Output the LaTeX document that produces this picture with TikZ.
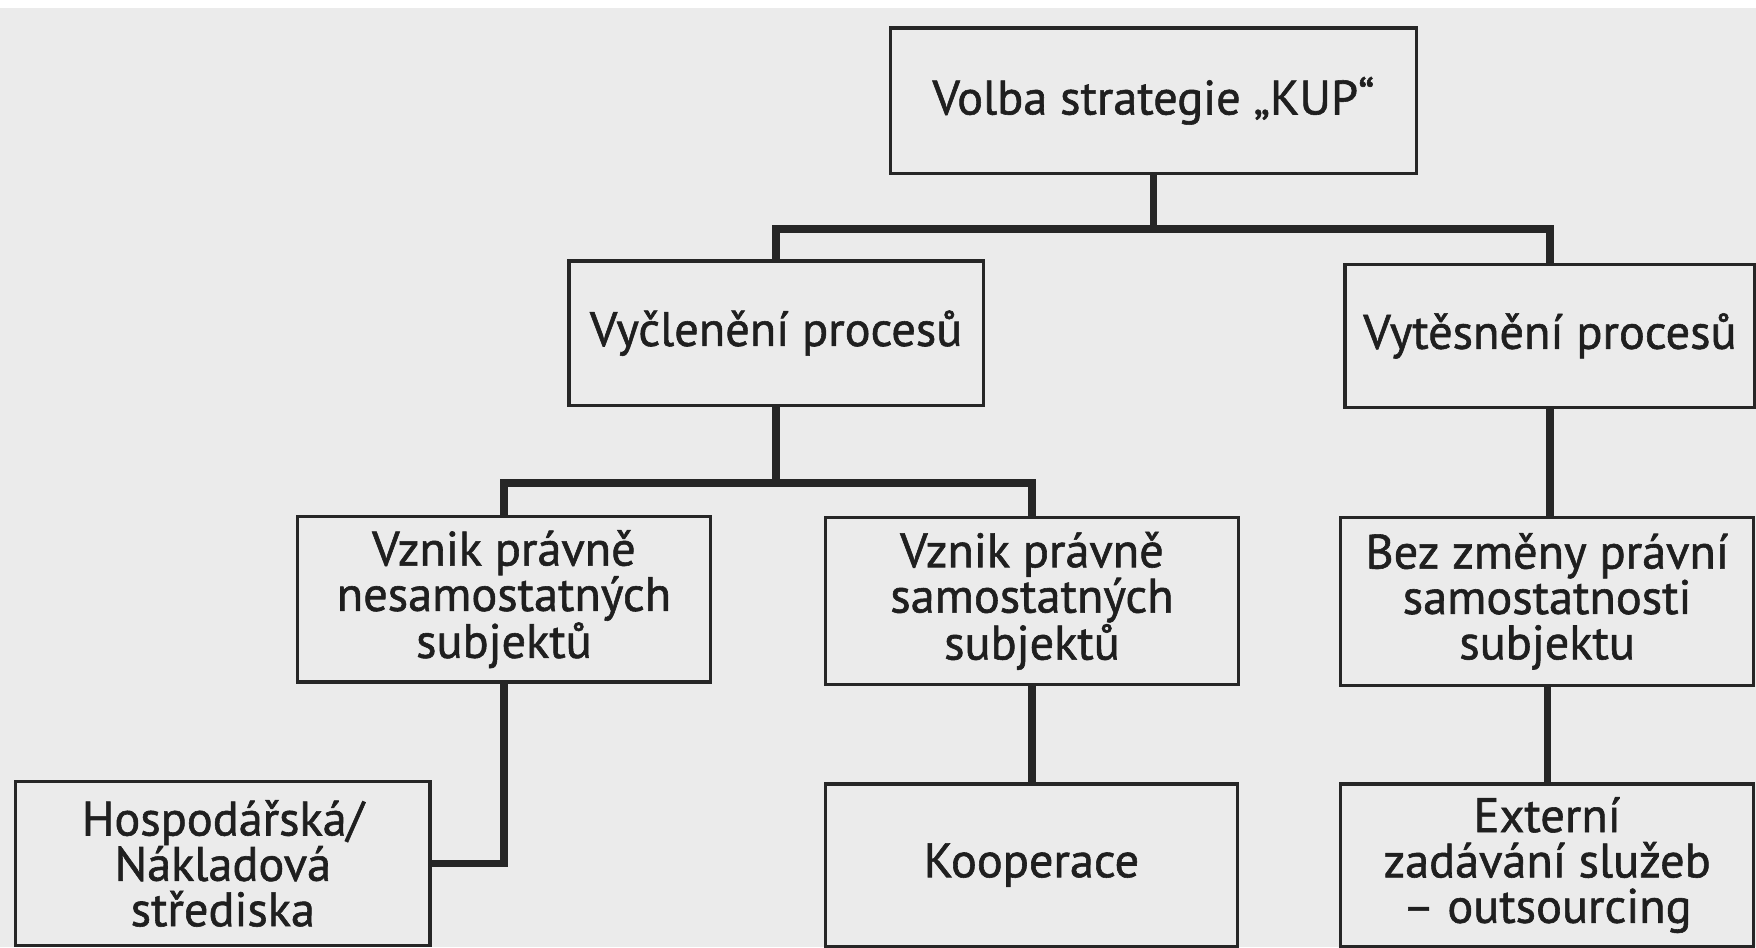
\documentclass[tikz,border=0pt]{standalone}
\usepackage{fontspec}
\setmainfont{PT Sans}[FakeBold=1.2]
\usetikzlibrary{calc}
\begin{document}
\begin{tikzpicture}[x=0.025cm,y=-0.025cm,
  paper/.style={fill=black!8},
  ink/.style={draw=black!85,line width=2.1pt},
  box/.style={ink,rectangle,inner sep=0pt,align=center,
    font=\fontsize{30.7}{28.8}\selectfont,text=black!88},
  conn/.style={draw=black!85,line width=4.6pt,line join=miter,line cap=butt}]
  \useasboundingbox (0,0) rectangle (1568,846);
  \clip (0,0) rectangle (1568,846);
  \fill[paper] (0,0) rectangle (1568,846);
  \fill[white] (0,0) rectangle (1568,7);

  % tree of strategy choices
  \node[box,minimum width=11.75cm,minimum height=3.25cm] (top) at (1030,90) {Volba strategie „KUP“};
  \node[box,minimum width=9.25cm,minimum height=3.22cm] (vyc) at (693,297.5) {Vyčlenění procesů};
  \node[box,minimum width=9.15cm,minimum height=3.2cm] (vyt) at (1384,300) {Vytěsnění procesů};
  \node[box,minimum width=9.22cm,minimum height=3.7cm] (nes) at (450,535) {Vznik právně\\nesamostatných\\subjektů};
  \node[box,minimum width=9.22cm,minimum height=3.72cm] (sam) at (921.5,536.5) {Vznik právně\\samostatných\\subjektů};
  \node[box,minimum width=9.22cm,minimum height=3.75cm] (bez) at (1381.5,537) {Bez změny právní\\samostatnosti\\subjektu};
  \node[box,minimum width=9.25cm,minimum height=3.65cm] (hos) at (199,771) {Hospodářská/\\Nákladová\\střediska};
  \node[box,minimum width=9.2cm,minimum height=3.62cm] (koo) at (921,772.5) {Kooperace};
  \node[box,minimum width=9.22cm,minimum height=3.62cm] (ext) at (1381.5,772.5) {Externí\\zadávání služeb\\– outsourcing};

  % connectors
  \coordinate (j1) at ($(top.south)+(0,48)$);
  \path[conn] (top.south) -- (j1);
  \path[conn] (vyc.north) |- (j1) -| (vyt.north);
  \coordinate (j2) at ($(vyc.south)+(0,68)$);
  \path[conn] (vyc.south) -- (j2);
  \path[conn] (nes.north) |- (j2) -| (sam.north);
  \path[conn] (vyt.south) -- (vyt.south |- bez.north);
  \path[conn] (nes.south) |- (hos.east);
  \path[conn] (sam.south) -- (sam.south |- koo.north);
  \path[conn] (bez.south) -- (bez.south |- ext.north);
\end{tikzpicture}
\end{document}
